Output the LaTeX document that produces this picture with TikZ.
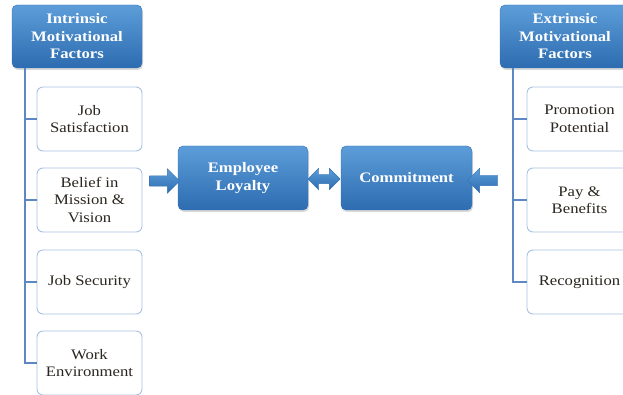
\documentclass[tikz,border=0pt]{standalone}
\usepackage{fontspec}
\setmainfont{Liberation Serif}[FakeStretch=1.15]
\usepackage{xcolor}
\usetikzlibrary{shapes.arrows}
\usetikzlibrary{shadows}
\definecolor{boxtop}{HTML}{5C9DD9}
\definecolor{boxbot}{HTML}{2D6CB0}
\definecolor{boxedge}{HTML}{3571B3}
\definecolor{factoredge}{HTML}{A7C2E2}
\definecolor{factortext}{HTML}{2B2620}
\definecolor{spinecol}{HTML}{5E88C3}

\begin{document}
\begin{tikzpicture}[x=1pt,y=-1pt,
  header/.style={rounded corners=5pt, draw=boxedge, top color=boxtop, bottom color=boxbot,
    text=white, font=\bfseries\fontsize{14.5}{17.5}\selectfont, align=center,
    minimum width=130pt, minimum height=63pt, inner sep=0pt,
    drop shadow={opacity=0.3, shadow xshift=1pt, shadow yshift=-2pt}},
  factor/.style={rounded corners=6pt, draw=factoredge, line width=0.9pt, fill=white,
    text=factortext, font=\fontsize{14.5}{17.5}\selectfont, align=center,
    minimum width=105pt, minimum height=64pt, inner sep=0pt},
  spine/.style={draw=spinecol, line width=1.4pt},
  blockarrow/.style={single arrow, draw=boxedge, top color=boxtop, bottom color=boxbot,
    inner sep=5pt, minimum height=30pt, single arrow head extend=7pt},
  twoway/.style={double arrow, draw=boxedge, top color=boxtop, bottom color=boxbot,
    inner sep=4.5pt, minimum height=32pt, double arrow head extend=6pt}]
 \clip (0,0) rectangle (623,395);

 % intrinsic side
 \node[header] (lhead) at (77,36.5) {Intrinsic\\Motivational\\Factors};
 \node[factor] (l1) at (89.5,119) {Job\\Satisfaction};
 \node[factor] (l2) at (89.5,200) {Belief in\\Mission \&\\Vision};
 \node[factor] (l3) at (89.5,282) {Job Security};
 \node[factor] (l4) at (89.5,363) {Work\\Environment};
 \draw[spine] ([xshift=13pt]lhead.south west) |- (l1.west);
 \draw[spine] ([xshift=13pt]lhead.south west) |- (l2.west);
 \draw[spine] ([xshift=13pt]lhead.south west) |- (l3.west);
 \draw[spine] ([xshift=13pt]lhead.south west) |- (l4.west);

 % extrinsic side
 \node[header] (rhead) at (565,36.5) {Extrinsic\\Motivational\\Factors};
 \node[factor] (r1) at (579.5,119) {Promotion\\Potential};
 \node[factor] (r2) at (579.5,200) {Pay \&\\Benefits};
 \node[factor] (r3) at (579.5,282) {Recognition};
 \draw[spine] ([xshift=13pt]rhead.south west) |- (r1.west);
 \draw[spine] ([xshift=13pt]rhead.south west) |- (r2.west);
 \draw[spine] ([xshift=13pt]rhead.south west) |- (r3.west);

 % centre
 \node[header, minimum height=64pt] (loyalty) at (243,178) {Employee\\Loyalty};
 \node[header, minimum height=64pt, minimum width=131pt] (commit) at (406.5,178) {Commitment};
 \node[blockarrow] (inarrow) at (162,181) {};
 \node[twoway] (linkarrow) at (324,179) {};
 \node[blockarrow, shape border rotate=180] (outarrow) at (485,180.5) {};
\end{tikzpicture}
\end{document}
